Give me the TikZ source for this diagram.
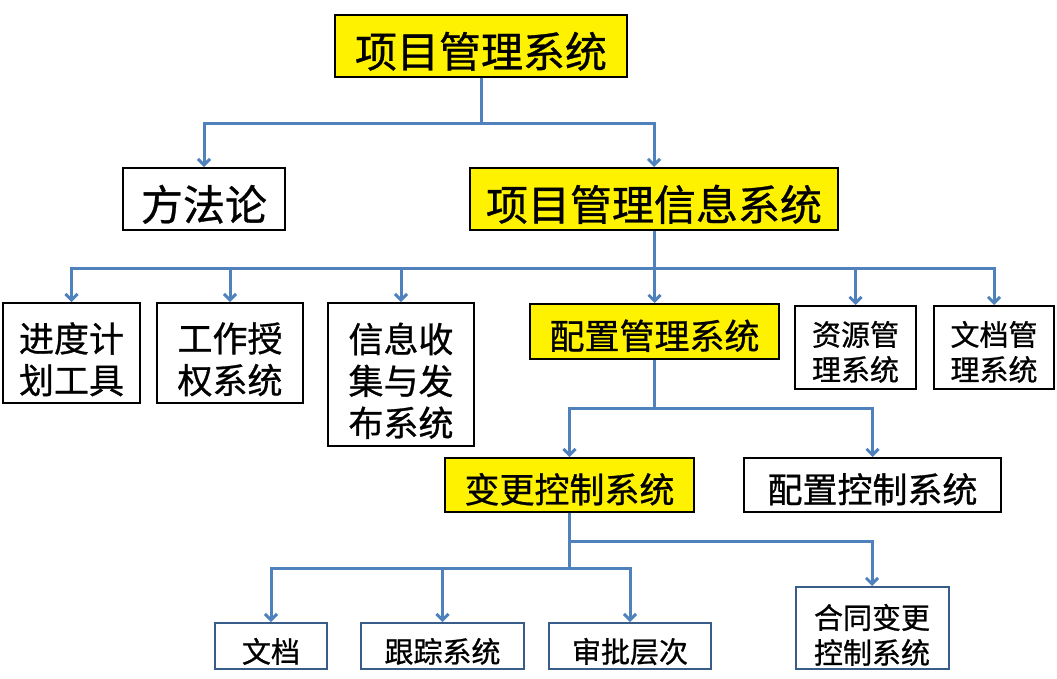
\documentclass[tikz,border=0pt]{standalone}
\usepackage{fontspec}
\newfontfamily\zhfont[FakeBold=0.8]{Noto Sans CJK SC}
\usetikzlibrary{arrows.meta}
\definecolor{lineblue}{RGB}{79,129,189}
\definecolor{boxnavy}{RGB}{56,93,138}
% text sits a little low in its box
\newcommand{\lowtext}[2][9pt]{\raisebox{-#1}[\height][\depth]{\begin{tabular}{@{}c@{}}#2\end{tabular}}}
\tikzset{
  box/.style={draw=black, line width=2pt, fill=white, inner sep=0pt, font=\zhfont},
  hl/.style={box, fill=yellow},
  lowbox/.style={box, draw=boxnavy},
  big/.style={font=\zhfont\fontsize{42}{46}\selectfont},
  mid/.style={font=\zhfont\fontsize{35}{41}\selectfont},
  sml/.style={font=\zhfont\fontsize{29}{35}\selectfont},
  conn/.style={draw=lineblue, line width=3pt},
  arr/.style={conn, -{Straight Barb[length=6pt,width=12pt]}}
}
\begin{document}
\begin{tikzpicture}[x=1pt, y=-1pt]
\useasboundingbox (0,0) rectangle (1057,678);
% level 1 and 2
\node[hl, big, minimum width=292, minimum height=62] (xmgl) at (481,46) {\lowtext[10.5pt]{项目管理系统}};
\node[box, big, minimum width=162, minimum height=62] (ffl) at (204,199) {\lowtext[10.5pt]{方法论}};
\node[hl, big, minimum width=368, minimum height=62] (xmxx) at (654,199) {\lowtext[10.5pt]{项目管理信息系统}};
% level 3
\node[box, mid, minimum width=137, minimum height=100] (jdjh) at (71.5,353) {\lowtext[11pt]{进度计\\划工具}};
\node[box, mid, minimum width=146, minimum height=100] (gzsq) at (230,353) {\lowtext[11pt]{工作授\\权系统}};
\node[box, mid, minimum width=146, minimum height=143] (xxsj) at (401,374.5) {\lowtext[11pt]{信息收\\集与发\\布系统}};
\node[hl, mid, minimum width=249, minimum height=55] (pzgl) at (654.5,331.5) {\lowtext{配置管理系统}};
\node[box, sml, minimum width=121, minimum height=83] (zygl) at (855.5,347.5) {\lowtext[8.5pt]{资源管\\理系统}};
\node[box, sml, minimum width=120, minimum height=83] (wdgl) at (994,347.5) {\lowtext[8.5pt]{文档管\\理系统}};
% level 4
\node[hl, mid, minimum width=249, minimum height=54] (bgkz) at (569.5,485) {\lowtext{变更控制系统}};
\node[box, mid, minimum width=257, minimum height=54] (pzkz) at (872.5,485) {\lowtext{配置控制系统}};
% level 5
\node[lowbox, sml, minimum width=112, minimum height=46] (wd) at (271,646) {\lowtext[9.5pt]{文档}};
\node[lowbox, sml, minimum width=163, minimum height=46] (gzxt) at (442.5,646) {\lowtext[9.5pt]{跟踪系统}};
\node[lowbox, sml, minimum width=162, minimum height=46] (spcc) at (630,646) {\lowtext[9.5pt]{审批层次}};
\node[lowbox, sml, minimum width=153, minimum height=82] (htbg) at (872,628) {\lowtext[11pt]{合同变更\\控制系统}};
% connectors
\coordinate (j1) at (481,123);
\coordinate (j2) at (654,268);
\coordinate (j3) at (654.5,408);
\coordinate (j4) at (569.5,541);
\coordinate (j5) at (569.5,568);
\draw[conn] (xmgl.south) -- (j1);
\draw[arr] (j1) -| (ffl.north);
\draw[arr] (j1) -| (xmxx.north);
\draw[conn] (xmxx.south) -- (j2);
\foreach \n in {jdjh,gzsq,xxsj,pzgl,zygl,wdgl}
  \draw[arr] (j2) -| (\n.north);
\draw[conn] (pzgl.south) -- (j3);
\draw[arr] (j3) -| (bgkz.north);
\draw[arr] (j3) -| (pzkz.north);
\draw[conn] (bgkz.south) -- (j5);
\draw[arr] (j4) -| (htbg.north);
\foreach \n in {wd,gzxt,spcc}
  \draw[arr] (j5) -| (\n.north);
\end{tikzpicture}
\end{document}
